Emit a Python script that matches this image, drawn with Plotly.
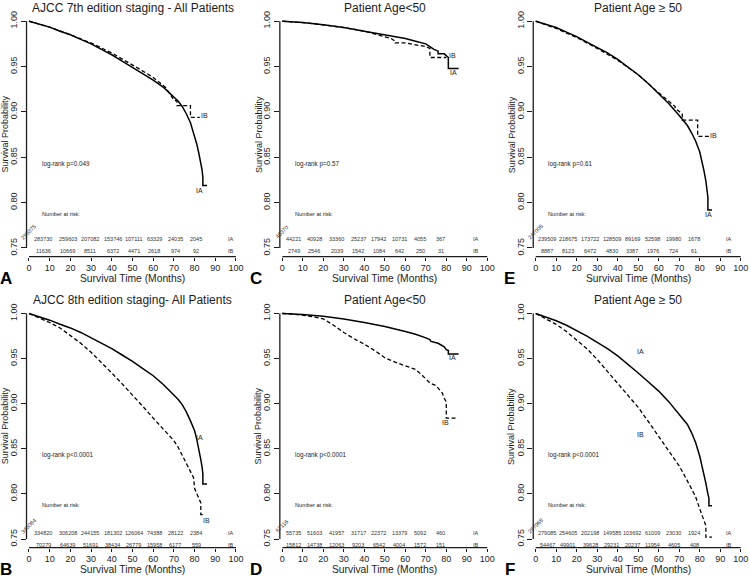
import plotly.graph_objects as go

W, H = 750, 579

# ------------------------------------------------------------------ data
# Panel A : AJCC 7th edition - all patients
a_ia_t = [0, 5, 10, 15, 20, 25, 30, 35, 40, 45, 50, 55, 60, 65, 70, 72, 74, 76, 78, 80, 81, 82, 83, 83.6, 84, 84, 86]
a_ia_s = [1.0, 0.997, 0.9935, 0.989, 0.985, 0.980, 0.975, 0.969, 0.963, 0.956, 0.949, 0.942, 0.935, 0.927, 0.917,
          0.912, 0.906, 0.898, 0.888, 0.874, 0.865, 0.855, 0.845, 0.836, 0.828, 0.819, 0.819]
a_ib_t = [0, 10, 20, 30, 40, 50, 55, 60, 63, 66, 68, 70, 71.5, 71.5, 78, 78, 82.5]
a_ib_s = [1.0, 0.9935, 0.985, 0.976, 0.965, 0.952, 0.945, 0.938, 0.932, 0.927, 0.920, 0.913, 0.912, 0.907,
          0.907, 0.894, 0.894]
a_risk_ia = [293375, 283730, 259603, 207082, 153746, 107111, 63329, 24035, 2045]
a_risk_ib = [11981, 11636, 10669, 8511, 6372, 4471, 2618, 974, 92]

# Panel C : age < 50 (7th)
c_ia_t = [0, 10, 20, 30, 40, 50, 60, 65, 70, 72, 74, 76, 76, 79, 80, 81, 81, 86]
c_ia_s = [1.0, 0.9985, 0.996, 0.993, 0.989, 0.985, 0.981, 0.978, 0.975, 0.972, 0.969, 0.967, 0.964, 0.964,
          0.962, 0.960, 0.948, 0.948]
c_ib_t = [0, 10, 20, 30, 40, 45, 50, 53, 55, 55, 60, 65, 70, 72, 72, 80]
c_ib_s = [1.0, 0.9985, 0.996, 0.993, 0.989, 0.986, 0.983, 0.981, 0.978, 0.976, 0.976, 0.974, 0.972, 0.970,
          0.960, 0.960]
c_risk_ia = [46370, 44221, 40928, 33360, 25237, 17942, 10731, 4055, 367]
c_risk_ib = [2820, 2749, 2546, 2039, 1542, 1084, 642, 250, 31]

# Panel E : age >= 50 (7th)
e_ia_t = [0, 5, 10, 15, 20, 25, 30, 35, 40, 45, 50, 55, 60, 65, 70, 72, 74, 76, 78, 80, 81, 82, 83, 83.6, 84, 84, 86]
e_ia_s = [1.0, 0.9965, 0.993, 0.988, 0.983, 0.977, 0.971, 0.965, 0.958, 0.950, 0.941, 0.931, 0.920, 0.909,
          0.896, 0.891, 0.885, 0.877, 0.868, 0.856, 0.847, 0.836, 0.824, 0.815, 0.806, 0.792, 0.792]
e_ib_t = [0, 10, 20, 30, 40, 50, 60, 62, 65, 68, 68, 70, 71.5, 71.5, 79, 79, 84.5]
e_ib_s = [1.0, 0.992, 0.982, 0.970, 0.957, 0.941, 0.921, 0.917, 0.911, 0.906, 0.904, 0.900, 0.898, 0.891,
          0.891, 0.873, 0.873]
e_risk_ia = [247005, 239509, 218675, 173722, 128509, 89169, 52598, 19980, 1678]
e_risk_ib = [9161, 8887, 8123, 6472, 4830, 3387, 1976, 724, 61]

# Panel B : AJCC 8th edition - all patients
b_ia_t = [0, 5, 10, 15, 20, 25, 30, 35, 40, 45, 50, 55, 60, 65, 70, 72, 74, 76, 78, 80, 81, 82, 83, 83.6, 84, 84, 86]
b_ia_s = [1.0, 0.9963, 0.9926, 0.988, 0.984, 0.979, 0.973, 0.967, 0.961, 0.954, 0.947, 0.939, 0.931, 0.921,
          0.910, 0.905, 0.899, 0.891, 0.881, 0.870, 0.861, 0.851, 0.838, 0.830, 0.822, 0.811, 0.811]
b_ib_t = [0, 5, 10, 15, 20, 25, 30, 35, 40, 45, 50, 55, 60, 65, 70, 72, 75, 78, 79.5, 80, 81, 82, 83, 83, 85]
b_ib_s = [1.0, 0.995, 0.990, 0.984, 0.976, 0.967, 0.957, 0.946, 0.934, 0.922, 0.910, 0.897, 0.884, 0.871,
          0.859, 0.852, 0.838, 0.825, 0.818, 0.806, 0.800, 0.795, 0.790, 0.777, 0.777]
b_risk_ia = [345084, 334820, 306208, 244155, 181302, 126064, 74388, 28122, 2384]
b_risk_ib = [73367, 70279, 64639, 51691, 38434, 26779, 15958, 6177, 559]

# Panel D : age < 50 (8th)
d_ia_t = [0, 10, 20, 30, 40, 50, 60, 65, 70, 72, 72.5, 76, 79, 80, 81, 81, 86]
d_ia_s = [1.0, 0.999, 0.997, 0.994, 0.990, 0.9855, 0.980, 0.977, 0.973, 0.971, 0.969, 0.967, 0.963, 0.960,
          0.959, 0.955, 0.955]
d_ib_t = [0, 5, 10, 15, 20, 25, 30, 35, 40, 45, 50, 55, 60, 65, 68, 70, 72, 75, 77, 78, 79, 80, 80, 85]
d_ib_s = [1.0, 0.9995, 0.998, 0.9965, 0.994, 0.987, 0.979, 0.972, 0.966, 0.959, 0.951, 0.946, 0.942, 0.938,
          0.932, 0.927, 0.923, 0.920, 0.915, 0.912, 0.906, 0.902, 0.884, 0.884]
d_risk_ia = [57116, 55735, 51603, 41957, 31717, 22372, 13379, 5092, 460]
d_risk_ib = [16122, 15812, 14738, 12063, 9203, 6542, 4004, 1572, 151]

# Panel F : age >= 50 (8th)
f_ia_t = [0, 5, 10, 15, 20, 25, 30, 35, 40, 45, 50, 55, 60, 65, 70, 72, 74, 76, 78, 80, 81, 82, 83, 84, 84.5, 84.5, 86]
f_ia_s = [1.0, 0.996, 0.992, 0.987, 0.981, 0.975, 0.968, 0.961, 0.953, 0.944, 0.934, 0.924, 0.914, 0.902,
          0.888, 0.883, 0.877, 0.868, 0.857, 0.842, 0.833, 0.823, 0.812, 0.800, 0.795, 0.787, 0.787]
f_ib_t = [0, 5, 10, 15, 20, 25, 30, 35, 40, 45, 50, 55, 60, 65, 70, 72, 75, 78, 79, 80, 81, 82, 83, 83, 86]
f_ib_s = [1.0, 0.994, 0.988, 0.980, 0.971, 0.961, 0.949, 0.936, 0.923, 0.910, 0.896, 0.880, 0.864, 0.848,
          0.831, 0.823, 0.810, 0.797, 0.790, 0.783, 0.777, 0.771, 0.765, 0.752, 0.752]
f_risk_ia = [287968, 279085, 254605, 202198, 149585, 103692, 61009, 23030, 1924]
f_risk_ib = [57245, 54467, 49901, 39628, 29231, 20237, 11954, 4605, 408]

x_ticks = [0, 10, 20, 30, 40, 50, 60, 70, 80, 90, 100]
y_ticks = [0.75, 0.80, 0.85, 0.90, 0.95, 1.00]
group_labels = ["IA", "IB"]

panels = [
    dict(title="AJCC 7th edition staging - All Patients", letter="A", col=0, row=0, p="log-rank p=0.049",
         ia=(a_ia_t, a_ia_s), ib=(a_ib_t, a_ib_s), risk=(a_risk_ia, a_risk_ib)),
    dict(title="Patient Age<50", letter="C", col=1, row=0, p="log-rank p=0.57",
         ia=(c_ia_t, c_ia_s), ib=(c_ib_t, c_ib_s), risk=(c_risk_ia, c_risk_ib)),
    dict(title="Patient Age \u2265 50", letter="E", col=2, row=0, p="log-rank p=0.61",
         ia=(e_ia_t, e_ia_s), ib=(e_ib_t, e_ib_s), risk=(e_risk_ia, e_risk_ib)),
    dict(title="AJCC 8th edition staging- All Patients", letter="B", col=0, row=1, p="log-rank p<0.0001",
         ia=(b_ia_t, b_ia_s), ib=(b_ib_t, b_ib_s), risk=(b_risk_ia, b_risk_ib)),
    dict(title="Patient Age<50", letter="D", col=1, row=1, p="log-rank p<0.0001",
         ia=(d_ia_t, d_ia_s), ib=(d_ib_t, d_ib_s), risk=(d_risk_ia, d_risk_ib)),
    dict(title="Patient Age \u2265 50", letter="F", col=2, row=1, p="log-rank p<0.0001",
         ia=(f_ia_t, f_ia_s), ib=(f_ib_t, f_ib_s), risk=(f_risk_ia, f_risk_ib)),
]

# ------------------------------------------------------------------ layout geometry (pixels)
COL_X0 = [29.0, 282.3, 535.7]      # pixel of x=0
COL_SC = [2.07, 2.05, 2.05]        # pixels per month
ROW_Y100 = [21.2, 313.5]           # pixel of y=1.00
ROW_Y075 = [248.0, 539.0]          # pixel of y=0.75
XR = [-1.2, 104.0]
YR = [0.7405, 1.01]

# layout-only label positions
curve_label_pos = {
    "A": ((82.6, 0.813), (84.8, 0.896)),
    "C": ((83.4, 0.944), (82.8, 0.962)),
    "E": ((84.5, 0.787), (86.6, 0.874)),
    "B": ((82.6, 0.863), (85.6, 0.771)),
    "D": ((83.0, 0.951), (79.7, 0.879)),
    "F": ((51.0, 0.958), (51.0, 0.866)),
}
risk_x_wide = [7.0, 18.8, 29.5, 40.5, 50.6, 60.6, 70.6, 80.7]
risk_x_narrow = [5.6, 15.6, 26.6, 37.0, 47.0, 57.0, 67.3, 77.3]
risk_rows = [(0.7600, 0.7465), (0.7570, 0.7435)]

FONT = "Liberation Sans, Arial, Helvetica, sans-serif"
INK = "#1c1c1c"

fig = go.Figure()
layout = dict(width=W, height=H, margin=dict(l=0, r=0, t=0, b=0, autoexpand=False), showlegend=False,
              paper_bgcolor="white", plot_bgcolor="white", font=dict(family=FONT, color=INK))
annotations = []
shapes = []

for i, pn in enumerate(panels):
    s = "" if i == 0 else str(i + 1)
    xa, ya = "x" + s, "y" + s
    c, r = pn["col"], pn["row"]
    x0p, sc = COL_X0[c], COL_SC[c]
    pu = (ROW_Y075[r] - ROW_Y100[r]) / 0.25
    dom_x = [(x0p + XR[0] * sc) / W, (x0p + XR[1] * sc) / W]
    top_px = ROW_Y100[r] - (YR[1] - 1.0) * pu
    bot_px = ROW_Y100[r] + (1.0 - YR[0]) * pu
    dom_y = [1 - bot_px / H, 1 - top_px / H]

    layout["xaxis" + s] = dict(domain=dom_x, range=XR, anchor=ya, tickvals=x_ticks, ticks="outside",
                               ticklen=3, tickwidth=1, tickcolor=INK, showgrid=False, zeroline=False,
                               showline=False, fixedrange=True, tickfont=dict(size=9, family=FONT, color=INK))
    layout["yaxis" + s] = dict(domain=dom_y, range=YR, anchor=xa, tickvals=y_ticks,
                               ticktext=["%.2f" % v for v in y_ticks], ticks="outside", ticklen=5,
                               tickwidth=1, tickcolor=INK, tickangle=-90, showgrid=False, zeroline=False,
                               showline=False, fixedrange=True, tickfont=dict(size=9, family=FONT, color=INK))

    # R-style axis lines spanning only the tick range
    yspan = YR[1] - YR[0]
    xspan = XR[1] - XR[0]
    shapes.append(dict(type="line", xref=xa + " domain", yref=ya + " domain", x0=0, x1=0,
                       y0=(0.75 - YR[0]) / yspan, y1=(1.0 - YR[0]) / yspan,
                       line=dict(color=INK, width=1.3)))
    shapes.append(dict(type="line", xref=xa + " domain", yref=ya + " domain", y0=0, y1=0,
                       x0=(0 - XR[0]) / xspan, x1=(100 - XR[0]) / xspan,
                       line=dict(color=INK, width=1.3)))

    # curves
    fig.add_trace(go.Scatter(x=pn["ia"][0], y=pn["ia"][1], mode="lines", xaxis=xa, yaxis=ya,
                             line=dict(color="black", width=1.5), hoverinfo="skip"))
    fig.add_trace(go.Scatter(x=pn["ib"][0], y=pn["ib"][1], mode="lines", xaxis=xa, yaxis=ya,
                             line=dict(color="black", width=1.3, dash="4px,2.5px"), hoverinfo="skip"))

    # curve labels
    for lab, (lx, ly) in zip(group_labels, curve_label_pos[pn["letter"]]):
        annotations.append(dict(x=lx, y=ly, xref=xa, yref=ya, text=lab, showarrow=False,
                                font=dict(size=7, color=INK)))

    # title
    cx_px = x0p + 50 * sc
    annotations.append(dict(x=cx_px / W, y=1 - (ROW_Y100[r] - 13.5) / H, xref="paper", yref="paper",
                            xanchor="center", yanchor="middle",
                            text=pn["title"], showarrow=False, font=dict(size=12, color=INK)))
    # x axis title
    annotations.append(dict(x=50, y=1 - (ROW_Y075[r] + 30.5) / H, xref=xa, yref="paper",
                            xanchor="center", yanchor="middle",
                            text="Survival Time (Months)", showarrow=False, font=dict(size=10.3, color=INK)))
    # y axis title
    annotations.append(dict(x=(x0p - 1.2 * sc - 21.5) / W, y=0.875, xref="paper", yref=ya,
                            xanchor="center", yanchor="middle",
                            text="Survival Probability", textangle=-90, showarrow=False,
                            font=dict(size=9, color=INK)))
    # panel letter
    annotations.append(dict(x=(x0p - 23 + (0 if c == 0 else -3)) / W, y=1 - (ROW_Y075[r] + 30) / H,
                            xref="paper", yref="paper", xanchor="center", yanchor="middle",
                            text="<b>%s</b>" % pn["letter"], showarrow=False,
                            font=dict(size=17, color="black")))
    # log-rank and number at risk
    annotations.append(dict(x=5.2, y=0.843, xref=xa, yref=ya, text=pn["p"], showarrow=False,
                            xanchor="left", font=dict(size=6.3, color=INK)))
    annotations.append(dict(x=5.2, y=0.788, xref=xa, yref=ya, text="Number at risk:", showarrow=False,
                            xanchor="left", font=dict(size=5.6, color=INK)))
    # risk table
    rx = risk_x_wide if c == 0 else risk_x_narrow
    lab_x = 97.5 if c == 0 else 94.3
    for gi, (vals, ry) in enumerate(zip(pn["risk"], risk_rows[r])):
        annotations.append(dict(x=-0.3 if gi == 0 else -2.0, y=ry + 0.0078, xref=xa, yref=ya,
                                text=str(vals[0]), textangle=-45, showarrow=False,
                                font=dict(size=5.6, color="#333")))
        for v, xx in zip(vals[1:], rx):
            annotations.append(dict(x=xx, y=ry, xref=xa, yref=ya, text=str(v), showarrow=False,
                                    font=dict(size=5.5, color="#333")))
        annotations.append(dict(x=lab_x, y=ry, xref=xa, yref=ya, text=group_labels[gi], showarrow=False,
                                font=dict(size=5.6, color="#333")))

layout["annotations"] = annotations
layout["shapes"] = shapes
fig.update_layout(**layout)

# the page body has a default 8px margin; remove it so the figure sits at the window origin
fig.write_html("out.html", config={"displayModeBar": False, "staticPlot": True},
               post_script="document.body.style.margin='0px';document.body.style.overflow='hidden';")
